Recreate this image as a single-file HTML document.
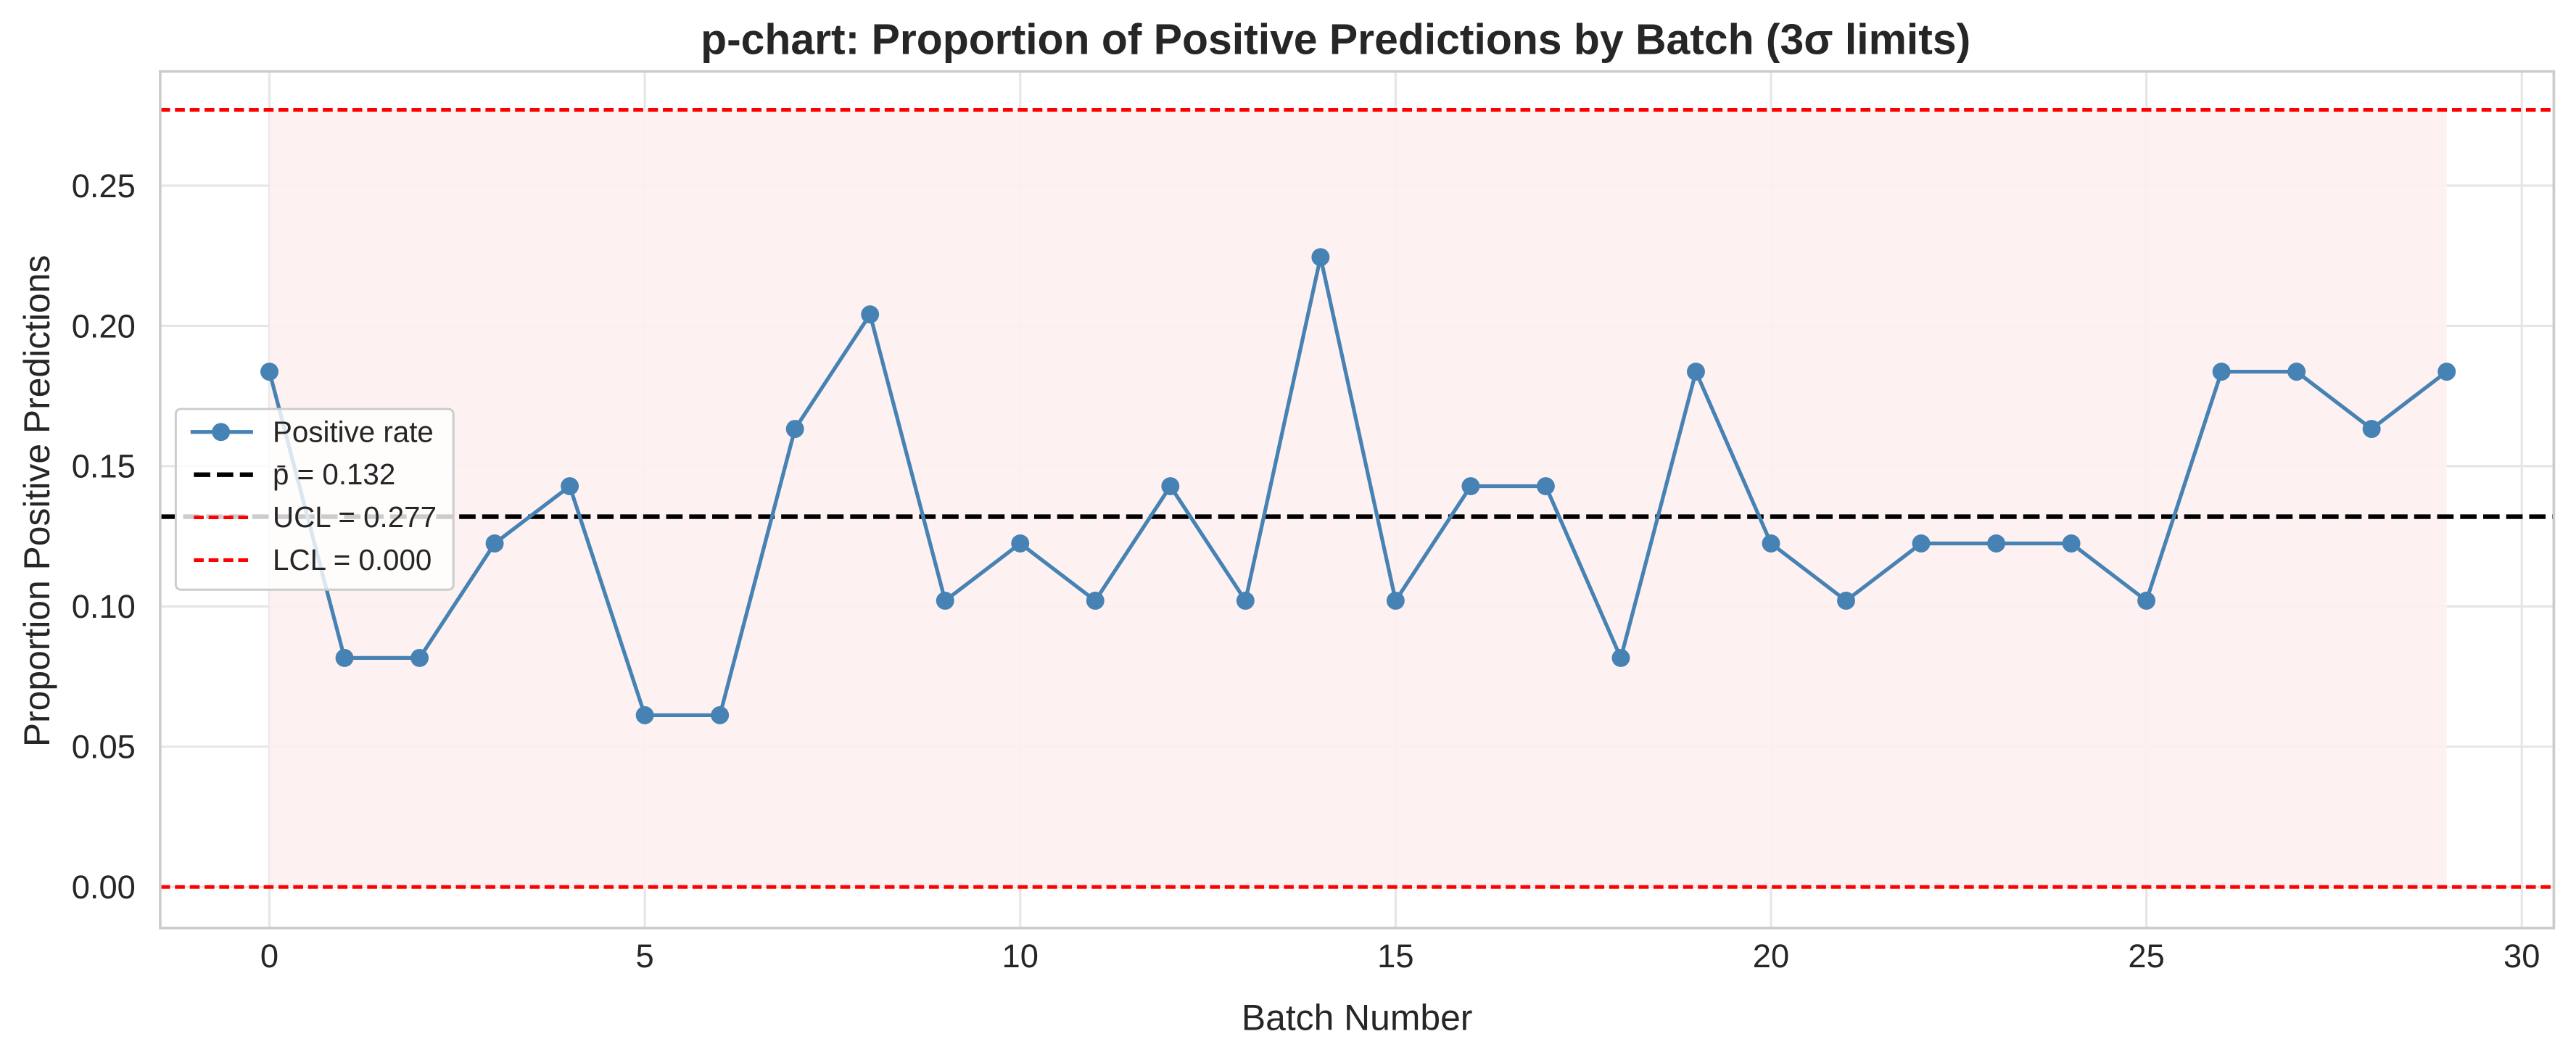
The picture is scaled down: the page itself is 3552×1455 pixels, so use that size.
<!DOCTYPE html>
<html><head><meta charset="utf-8"><style>
html,body{margin:0;padding:0;background:#fff;}
svg{display:block;font-family:"Liberation Sans",Arial,sans-serif;}
</style></head><body>
<svg id="chart" width="3552" height="1455" viewBox="0 0 1568 642.3" preserveAspectRatio="none" xmlns="http://www.w3.org/2000/svg">
<text x="813" y="33" text-anchor="middle" font-size="26" font-weight="bold" fill="#262626">p-chart: Proportion of Positive Predictions by Batch (3σ limits)</text>
<g id="grid"></g>
<rect id="band" fill="#fdeff0" fill-opacity="0.9"/>
<g id="lines"></g>
<g id="series"></g>
<rect x="97.5" y="43.5" width="1457" height="521.5" fill="none" stroke="#cccccc" stroke-width="1.6"/>
<g id="ticks"></g>
<text x="826" y="627" text-anchor="middle" font-size="22" fill="#262626">Batch Number</text>
<text transform="translate(30,305) rotate(-90)" text-anchor="middle" font-size="22" fill="#262626">Proportion Positive Predictions</text>
<g>
<rect x="107" y="249" width="169" height="110" rx="3" fill="#fff" fill-opacity="0.8" stroke="#cccccc" stroke-width="1.3"/>
<g>
<line x1="116" y1="263" x2="154" y2="263" stroke="#4682b4" stroke-width="2.3"/><circle cx="134.5" cy="263" r="5.5" fill="#4682b4"/>
<text x="166" y="269" font-size="17.8" fill="#262626">Positive rate</text></g>
<g>
<line x1="118" y1="289" x2="154" y2="289" stroke="#000" stroke-width="2.8" stroke-dasharray="10 4"/>
<text x="166" y="295" font-size="17.8" fill="#262626">p̄ = 0.132</text></g>
<g>
<line x1="118" y1="315" x2="154" y2="315" stroke="#f00" stroke-width="2.2" stroke-dasharray="6 3"/>
<text x="166" y="321" font-size="17.8" fill="#262626">UCL = 0.277</text></g>
<g>
<line x1="118" y1="341" x2="154" y2="341" stroke="#f00" stroke-width="2.2" stroke-dasharray="6 3"/>
<text x="166" y="347" font-size="17.8" fill="#262626">LCL = 0.000</text></g>
</g>
</svg>
<script>
const batches=[0,1,2,3,4,5,6,7,8,9,10,11,12,13,14,15,16,17,18,19,20,21,22,23,24,25,26,27,28,29];
const positives=[9,4,4,6,7,3,3,8,10,5,6,5,7,5,11,5,7,7,4,9,6,5,6,6,6,5,9,9,8,9];
const batchSize=49;
const pBar=0.132, ucl=0.277, lcl=0.0;
const xTicks=[0,5,10,15,20,25,30];
const yTicks=[0.00,0.05,0.10,0.15,0.20,0.25];
const NS="http://www.w3.org/2000/svg";
const L=97.5,R=1554.5,T=43.5,B=565;
const X=v=>164+(v-0)*(1535-164)/30;
const Y=v=>540-v*(540-113)/0.25;
function mk(tag,attrs,parent){const e=document.createElementNS(NS,tag);for(const k in attrs)e.setAttribute(k,attrs[k]);document.getElementById(parent).appendChild(e);return e;}
const band=document.getElementById('band');
band.setAttribute('x',X(batches[0]));band.setAttribute('width',X(batches[batches.length-1])-X(batches[0]));
band.setAttribute('y',Y(ucl));band.setAttribute('height',Y(lcl)-Y(ucl));
xTicks.forEach(t=>{
 const g=mk('line',{x1:X(t),x2:X(t),y1:T,y2:B,stroke:'#e6e6e6','stroke-width':1.4},'grid');
 
 
 const tx=mk('text',{x:X(t),y:B+24,'text-anchor':'middle','font-size':20,fill:'#262626'},'ticks');
 tx.textContent=t;
 
 
});
yTicks.forEach(t=>{
 const g=mk('line',{x1:L,x2:R,y1:Y(t),y2:Y(t),stroke:'#e6e6e6','stroke-width':1.4},'grid');
 
 
 const tx=mk('text',{x:L-15,y:Y(t)+7,'text-anchor':'end','font-size':20,fill:'#262626'},'ticks');
 tx.textContent=t.toFixed(2);
 
 
});
const u=mk('line',{x1:L,x2:R,y1:Y(ucl),y2:Y(ucl),stroke:'#f00','stroke-width':2.2,'stroke-dasharray':'6 3'},'lines');


const l=mk('line',{x1:L,x2:R,y1:Y(lcl),y2:Y(lcl),stroke:'#f00','stroke-width':2.2,'stroke-dasharray':'6 3'},'lines');


const m=mk('line',{x1:L,x2:R,y1:Y(pBar),y2:Y(pBar),stroke:'#000','stroke-width':2.8,'stroke-dasharray':'10 4'},'lines');


const pts=batches.map((b,i)=>X(b)+','+Y(positives[i]/batchSize)).join(' ');
const pl=mk('polyline',{points:pts,fill:'none',stroke:'#4682b4','stroke-width':2.3,'stroke-linejoin':'round'},'series');


batches.forEach((b,i)=>{
 const c=mk('circle',{cx:X(b),cy:Y(positives[i]/batchSize),r:5.5,fill:'#4682b4'},'series');
 
 
});
</script>
</body></html>
